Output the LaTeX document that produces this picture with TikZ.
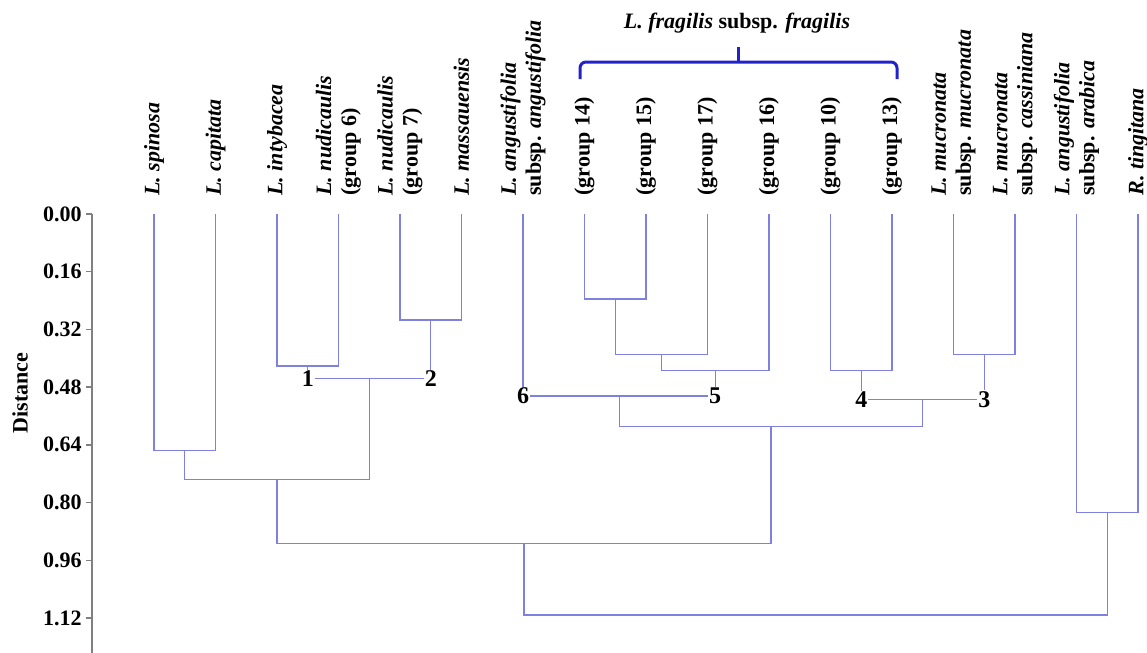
\documentclass[tikz,border=0pt]{standalone}
\usepackage{fontspec}
\setmainfont{Liberation Serif}
\usetikzlibrary{positioning}
\definecolor{treeblue}{RGB}{128,128,224}
\definecolor{bracketblue}{RGB}{34,34,204}
\definecolor{axisgray}{RGB}{128,128,128}
\tikzstyle{taxon} = [rotate=90, anchor=west, align=left, inner sep=0pt, font=\fontsize{11}{12.5}\selectfont\bfseries]
\tikzstyle{tree} = [draw=treeblue, line width=0.6pt]
\tikzstyle{num} = [fill=white, inner sep=0.4pt, font=\fontsize{12}{12}\selectfont\bfseries]
\tikzstyle{tick} = [anchor=east, inner sep=0pt, font=\fontsize{11}{12}\selectfont\bfseries]
\tikzstyle{axis} = [draw=axisgray, line width=0.7pt]
\tikzstyle{brace} = [draw=bracketblue, line width=1.5pt]

\begin{document}
\begin{tikzpicture}[x=0.5pt, y=-0.5pt]
  \useasboundingbox (0,0) rectangle (1147,653);
  % leaf labels
  \node[taxon] (spiL) at (154,196) {\textit{L. spinosa}};
  \node[taxon] (capL) at (215.5,196) {\textit{L. capitata}};
  \node[taxon] (intL) at (277,196) {\textit{L. intybacea}};
  \node[taxon] (nud6L) at (338.5,196) {\textit{L. nudicaulis}\\(group 6)};
  \node[taxon] (nud7L) at (400,196) {\textit{L. nudicaulis}\\(group 7)};
  \node[taxon] (masL) at (461.5,196) {\textit{L. massauensis}};
  \node[taxon] (angL) at (523,196) {\textit{L. angustifolia}\\subsp. \textit{angustifolia}};
  \node[taxon] (g14L) at (584.5,196) {(group 14)};
  \node[taxon] (g15L) at (646,196) {(group 15)};
  \node[taxon] (g17L) at (707.5,196) {(group 17)};
  \node[taxon] (g16L) at (769,196) {(group 16)};
  \node[taxon] (g10L) at (830.5,196) {(group 10)};
  \node[taxon] (g13L) at (892,196) {(group 13)};
  \node[taxon] (mucL) at (953.5,196) {\textit{L. mucronata}\\subsp. \textit{mucronata}};
  \node[taxon] (casL) at (1015,196) {\textit{L. mucronata}\\subsp. \textit{cassiniana}};
  \node[taxon] (araL) at (1076.5,196) {\textit{L. angustifolia}\\subsp. \textit{arabica}};
  \node[taxon] (tinL) at (1138,196) {\textit{R. tingitana}};

  % fragilis bracket
  \node[font=\fontsize{11}{12}\selectfont\bfseries] (frag) at (737,23) {\textit{L. fragilis} subsp. \textit{fragilis}};
  \coordinate (bk) at (738,62);
  \draw[brace, rounded corners=3] (580,79) |- (bk) -| (897,79);
  \draw[brace] (bk) -- (738,47);

  % leaf tops
  \foreach \n/\x in {spi/154, cap/215.5, int/277, nud6/338.5, nud7/400, mas/461.5,
    ang/523, g14/584.5, g15/646, g17/707.5, g16/769, g10/830.5, g13/892,
    muc/953.5, cas/1015, ara/1076.5, tin/1138}
    \coordinate (\n) at (\x,214);

  % clusters
  \coordinate (a) at (184.75,450.7);
  \coordinate (b) at (307.75,366);
  \coordinate (c) at (430.75,320);
  \coordinate (d) at (369.25,378.3);
  \coordinate (e) at (277,479.3);
  \coordinate (f) at (615.25,299);
  \coordinate (g) at (661.4,354.7);
  \coordinate (h) at (715.2,370.7);
  \coordinate (i) at (619.1,396);
  \coordinate (j) at (861.25,370.7);
  \coordinate (k) at (984.25,354.7);
  \coordinate (l) at (922.75,399.3);
  \coordinate (m) at (770.9,426.7);
  \coordinate (n) at (524,543.3);
  \coordinate (o) at (1107.25,512.3);
  \coordinate (root) at (815.6,615);

  \draw[tree] (spi) |- (a) -| (cap);
  \draw[tree] (int) |- (b) -| (nud6);
  \draw[tree] (nud7) |- (c) -| (mas);
  \draw[tree] (b) |- (d) -| (c);
  \draw[tree] (a) |- (e) -| (d);
  \draw[tree] (g14) |- (f) -| (g15);
  \draw[tree] (f) |- (g) -| (g17);
  \draw[tree] (g) |- (h) -| (g16);
  \draw[tree] (ang) |- (i) -| (h);
  \draw[tree] (g10) |- (j) -| (g13);
  \draw[tree] (muc) |- (k) -| (cas);
  \draw[tree] (j) |- (l) -| (k);
  \draw[tree] (i) |- (m) -| (l);
  \draw[tree] (e) |- (n) -| (m);
  \draw[tree] (ara) |- (o) -| (tin);
  \draw[tree] (n) |- (root) -| (o);

  % group numbers
  \node[num] (n1) at (b |- d) {1};
  \node[num] (n2) at (c |- d) {2};
  \node[num] (n6) at (ang |- i) {6};
  \node[num] (n5) at (h |- i) {5};
  \node[num] (n4) at (j |- l) {4};
  \node[num] (n3) at (k |- l) {3};

  % distance axis
  \coordinate (ax0) at (92,214);
  \coordinate (ax1) at (92,653);
  \draw[axis] (ax0) -- (ax1);
  \foreach \k/\t in {0/0.00,1/0.16,2/0.32,3/0.48,4/0.64,5/0.80,6/0.96,7/1.12} {
    \draw[axis] (92,214+57.7*\k) -- ++(-6,0);
    \node[tick] (t\k) at (82,214+57.7*\k) {\t};
  }
  \node[rotate=90, font=\fontsize{11}{12}\selectfont\bfseries] (dist) at (20,393) {Distance};
\end{tikzpicture}
\end{document}
